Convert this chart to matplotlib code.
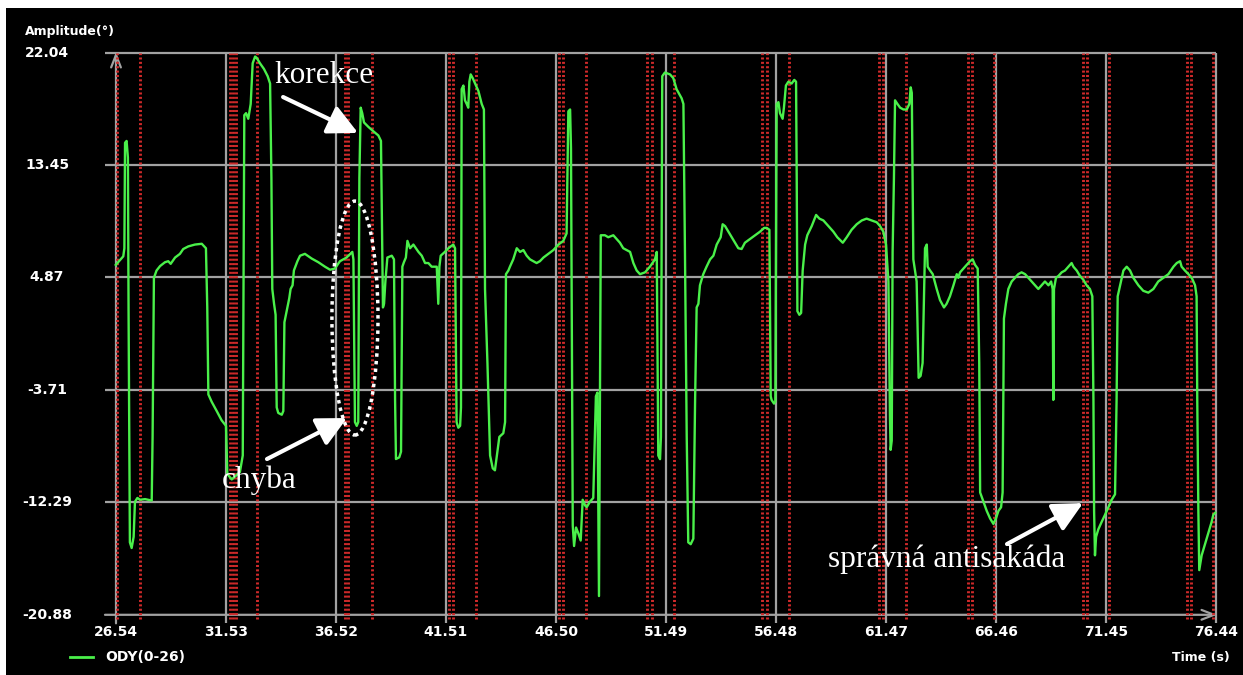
import matplotlib.pyplot as plt
from matplotlib.patches import Ellipse, Rectangle
from matplotlib.transforms import blended_transform_factory

# axis ticks as printed by the recorder
x_ticks = [26.54, 31.53, 36.52, 41.51, 46.50, 51.49, 56.48, 61.47, 66.46, 71.45, 76.44]
y_ticks = [22.04, 13.45, 4.87, -3.71, -12.29, -20.88]

# stimulus / saccade event markers (s)
marker_times = [26.59, 27.63, 31.71, 31.85, 31.98, 32.94, 36.93, 37.06, 38.15,
                41.65, 41.83, 42.87, 46.64, 46.82, 47.86, 50.63, 50.85, 51.85,
                55.84, 56.07, 57.07, 61.15, 61.33, 62.38, 65.19, 65.37, 66.37,
                70.41, 70.59, 71.59, 75.12, 75.31, 76.30]

# horizontal eye position, channel ODY(0-26)
time_s = [
    26.53, 26.72, 26.87, 26.92, 26.95, 27.02, 27.08, 27.11, 27.17, 27.25,
    27.34, 27.40, 27.51, 27.63, 27.86, 28.16, 28.20, 28.26, 28.38, 28.54,
    28.76, 28.91, 29.02, 29.22, 29.44, 29.59, 29.82, 30.12, 30.43, 30.62,
    30.68, 30.73, 30.88, 31.11, 31.33, 31.53, 31.59, 31.79, 32.16, 32.29,
    32.36, 32.44, 32.54, 32.65, 32.74, 32.85, 32.92, 33.07, 33.25, 33.42,
    33.53, 33.59, 33.63, 33.71, 33.78, 33.83, 33.90, 34.06, 34.13, 34.18,
    34.28, 34.40, 34.46, 34.55, 34.61, 34.77, 34.89, 35.11, 35.42, 35.72,
    36.02, 36.25, 36.47, 36.70, 37.00, 37.26, 37.31, 37.38, 37.46, 37.53,
    37.58, 37.64, 37.71, 37.79, 37.99, 38.24, 38.44, 38.56, 38.62, 38.65,
    38.70, 38.76, 38.85, 39.05, 39.15, 39.20, 39.24, 39.39, 39.47, 39.53,
    39.60, 39.69, 39.76, 39.88, 40.03,
    40.26, 40.41, 40.56, 40.71, 40.86, 41.09, 41.16, 41.21, 41.27, 41.46,
    41.62, 41.84, 41.92, 41.99, 42.07, 42.15, 42.19, 42.22, 42.30, 42.37,
    42.45, 42.52, 42.57, 42.63, 42.72, 42.83, 42.98, 43.13, 43.23, 43.28,
    43.39, 43.51, 43.63, 43.73, 43.84, 43.93, 44.11, 44.19, 44.23, 44.34,
    44.41, 44.56, 44.72, 44.87, 45.02, 45.17, 45.32, 45.47, 45.62, 45.77,
    45.93, 46.15, 46.38, 46.61, 46.83, 46.98, 47.06, 47.14, 47.18, 47.26,
    47.32, 47.41, 47.51, 47.62, 47.71, 47.82, 47.89, 48.04, 48.19, 48.31,
    48.38, 48.45, 48.50, 48.53, 48.72, 48.87, 49.10, 49.25, 49.40, 49.55,
    49.71, 49.86, 50.01, 50.16, 50.31, 50.54, 50.76, 50.99, 51.07, 51.14,
    51.22, 51.26, 51.32, 51.44, 51.67, 51.82, 51.97, 52.20, 52.28, 52.35,
    52.43, 52.50, 52.61, 52.73, 52.81, 52.88, 52.96, 53.03, 53.18, 53.33,
    53.49, 53.64, 53.79,
    53.97, 54.06, 54.17, 54.32, 54.47, 54.62, 54.77, 54.92, 55.07, 55.30,
    55.53, 55.76, 55.94, 56.06, 56.18, 56.24, 56.28, 56.39, 56.45, 56.51,
    56.59, 56.66, 56.78, 56.84, 56.93, 57.04, 57.19, 57.31, 57.39, 57.42,
    57.45, 57.54, 57.62, 57.69, 57.80, 57.90, 58.10, 58.30, 58.45, 58.63,
    58.86, 59.08, 59.26, 59.51, 59.69, 59.91, 60.14, 60.37, 60.59, 60.82,
    61.05, 61.20, 61.35, 61.47, 61.58, 61.65, 61.68, 61.73, 61.77, 61.83,
    61.88, 61.99, 62.11, 62.26, 62.41, 62.53, 62.59, 62.64, 62.71, 62.86,
    62.95, 63.04, 63.13, 63.24, 63.32, 63.36, 63.47, 63.59, 63.77, 63.92,
    64.10, 64.22, 64.37, 64.53, 64.68, 64.75, 64.83, 64.98, 65.13, 65.28,
    65.40, 65.51, 65.63, 65.70, 65.74,
    65.89, 66.04, 66.19, 66.34, 66.46, 66.57, 66.69, 66.76, 66.82, 66.91,
    67.02, 67.17, 67.32, 67.47, 67.62, 67.78, 67.93, 68.08, 68.23, 68.38,
    68.53, 68.68, 68.84, 68.96, 69.03, 69.06, 69.09, 69.18, 69.29, 69.44,
    69.59, 69.74, 69.89, 69.97, 70.12, 70.27, 70.42, 70.57, 70.72, 70.83,
    70.88, 70.91, 70.95, 71.00, 71.10, 71.25, 71.41, 71.56, 71.71, 71.86,
    71.93, 71.98, 72.09, 72.24, 72.39, 72.54, 72.69, 72.92, 73.14, 73.37,
    73.60, 73.82, 74.05, 74.28, 74.51, 74.66, 74.81, 74.88, 75.03, 75.19,
    75.34, 75.49, 75.56, 75.59, 75.64, 75.68, 75.79, 75.94, 76.09, 76.24,
    76.32, 76.41,
]
amplitude_deg = [
    5.83, 6.19, 6.48, 7.10, 15.15, 15.29, 14.02, 2.30, -15.35, -15.78,
    -14.93, -12.25, -11.96, -12.10, -12.05, -12.16, -7.30, 4.84, 5.40, 5.74,
    6.03, 6.11, 5.91, 6.39, 6.67, 7.04, 7.24, 7.38, 7.44, 7.10,
    2.58, -4.06, -4.62, -5.33, -6.03, -6.46, -10.13, -10.55, -9.99, -8.72,
    17.26, 17.41, 16.98, 18.11, 21.22, 21.73, 21.64, 21.22, 20.79, 20.23,
    19.67, 12.46, 3.99, 2.86, 2.02, -5.05, -5.47, -5.61, -5.33, 1.45,
    2.30, 3.29, 3.99, 4.27, 5.40, 6.11, 6.53, 6.67, 6.31, 6.03,
    5.69, 5.46, 5.55, 6.11, 6.39, 6.82, 6.25, -6.17, -6.46, -6.17,
    12.46, 17.83, 17.41, 16.70, 16.36, 15.99, 15.71, 15.29, 6.82, 2.58,
    2.86, 4.56, 6.39, 6.53, 6.25, -4.48, -8.99, -8.86, -8.43, 5.69,
    6.03, 6.39, 7.66, 7.10, 7.38,
    6.82, 6.53, 5.97, 5.97, 5.69, 5.69, 2.86, 5.69, 6.53, 6.82,
    7.10, 7.38, 7.10, -6.17, -6.60, -6.46, -5.05, 19.24, 19.52, 18.39,
    18.11, 17.83, 19.81, 20.37, 20.09, 19.67, 19.10, 18.11, 17.69, 3.99,
    -1.66, -8.72, -9.70, -9.85, -8.43, -7.30, -7.02, -6.17, 5.12, 5.40,
    5.69, 6.25, 7.10, 6.82, 6.96, 6.53, 6.25, 6.11, 5.97, 6.11,
    6.39, 6.67, 6.96, 7.38, 7.66, 8.23, 17.55, 17.69, 14.72, -14.08,
    -15.63, -14.22, -14.65, -15.21, -12.10, -12.53, -12.67, -12.25, -11.96, -4.20,
    -3.92, -19.45, -1.66, 8.09, 8.09, 7.94, 8.09, 7.80, 7.52, 7.10,
    6.96, 6.82, 5.97, 5.40, 5.12, 5.26, 5.69, 6.25, 6.82, -8.72,
    -9.00, -7.30, 20.23, 20.51, 20.37, 20.09, 19.24, 18.54, 18.11, 6.82,
    -7.30, -15.35, -15.49, -15.07, -4.48, 2.58, 2.86, 4.27, 5.12, 5.69,
    6.25, 6.53, 7.38,
    7.94, 8.93, 8.79, 8.37, 7.94, 7.52, 7.10, 7.04, 7.52, 7.80,
    8.09, 8.37, 8.65, 8.65, 8.51, -4.20, -4.48, -4.76, -4.62, 18.11,
    18.25, 17.41, 16.98, 17.83, 19.52, 19.81, 19.67, 19.95, 19.81, 12.46,
    2.30, 2.02, 2.16, 5.40, 7.38, 8.09, 8.79, 9.64, 9.36, 9.22,
    8.79, 8.37, 7.94, 7.52, 7.94, 8.51, 8.93, 9.22, 9.36, 9.22,
    9.08, 8.79, 8.37, 7.38, 4.56, -5.89, -8.29, -7.59, 6.82, 12.46,
    18.39, 18.11, 17.83, 17.69, 17.69, 18.11, 19.38, 18.96, 6.25, 4.56,
    -2.79, -2.64, -1.66, 7.10, 7.38, 5.69, 5.40, 5.12, 3.99, 3.14,
    2.58, 2.86, 3.43, 4.27, 5.12, 4.84, 5.26, 5.55, 5.83, 6.11,
    6.25, 5.83, 5.55, -1.66, -11.54,
    -12.25, -12.95, -13.52, -13.94, -13.52, -12.95, -12.67, -11.54, 1.73, 2.86,
    3.99, 4.56, 4.84, 5.12, 5.26, 5.12, 4.84, 4.56, 4.27, 3.99,
    4.27, 4.56, 4.27, 4.56, 3.99, -4.48, 3.99, 4.84, 4.98, 5.26,
    5.40, 5.69, 5.97, 5.69, 5.40, 4.98, 4.70, 4.27, 3.99, 3.43,
    -4.48, -12.95, -16.34, -14.93, -14.36, -13.80, -13.23, -12.67, -12.10, -11.68,
    -4.48, 3.43, 4.27, 5.40, 5.69, 5.40, 4.84, 4.27, 3.85, 3.71,
    3.99, 4.56, 4.84, 5.12, 5.69, 5.97, 6.11, 5.69, 5.40, 5.12,
    4.84, 4.27, 3.43, -4.48, -12.95, -17.47, -16.34, -15.49, -14.65, -13.80,
    -13.23, -13.09,
]

GRID = '#a2a2a2'
GREEN = '#4af04a'
RED = '#d02a2a'

fig = plt.figure(figsize=(12.43, 6.75), dpi=100, facecolor='white')
# black plot panel with a thin white margin on the top and left
fig.patches.append(Rectangle((6 / 1243, 0), 1, 1 - 8 / 675, transform=fig.transFigure,
                             facecolor='black', edgecolor='none', zorder=-10))

ax = fig.add_axes([116 / 1243, 60.2 / 675, 1100 / 1243, 562.3 / 675])
ax.set_facecolor('none')
ax.set_xlim(x_ticks[0], x_ticks[-1])
ax.set_ylim(y_ticks[-1], y_ticks[0])
ax.axis('off')

x_left = x_ticks[0] - 0.5
y_low = y_ticks[-1] - 0.65

# grid
ax.hlines(y_ticks[:-1], x_left, x_ticks[-1], colors=GRID, lw=1.6, clip_on=False, zorder=1)
ax.vlines(x_ticks[1:], y_low, y_ticks[0], colors=GRID, lw=1.6, clip_on=False, zorder=1)

# axes with arrow heads
ax.annotate('', xy=(x_ticks[-1] + 0.05, y_ticks[-1]), xytext=(x_left, y_ticks[-1]),
            arrowprops=dict(arrowstyle='->,head_length=0.9,head_width=0.35', color=GRID, lw=1.6,
                            shrinkA=0, shrinkB=0), annotation_clip=False, zorder=1)
ax.annotate('', xy=(x_ticks[0], y_ticks[0] + 0.05), xytext=(x_ticks[0], y_low),
            arrowprops=dict(arrowstyle='->,head_length=0.9,head_width=0.35', color=GRID, lw=1.6,
                            shrinkA=0, shrinkB=0), annotation_clip=False, zorder=1)

# event markers
ax.vlines(marker_times, y_ticks[-1] - 0.3, y_ticks[0], colors=RED, lw=2.1,
          linestyles=(0, (0.7, 0.8)), clip_on=False, zorder=2)

ax.plot(time_s, amplitude_deg, color=GREEN, lw=1.7, zorder=3, clip_on=False)

# tick labels
tf_y = blended_transform_factory(fig.transFigure, ax.transData)
for v in y_ticks:
    ax.text(47 / 1243, v, f'{v:.2f}', transform=tf_y, color='white', fontsize=10,
            fontweight='bold', ha='center', va='center')
tf_x = blended_transform_factory(ax.transData, fig.transFigure)
for v in x_ticks:
    ax.text(v, 1 - 632 / 675, f'{v:.2f}', transform=tf_x, color='white', fontsize=10,
            fontweight='bold', ha='center', va='center')

fig.text(25 / 1243, 1 - 31 / 675, 'Amplitude(°)', color='white', fontsize=9,
         fontweight='bold', ha='left', va='center')
fig.text(1230 / 1243, 1 - 658 / 675, 'Time (s)', color='white', fontsize=9,
         fontweight='bold', ha='right', va='center')

# legend
fig.lines.append(plt.Line2D([70 / 1243, 93 / 1243], [1 - 657 / 675] * 2,
                            transform=fig.transFigure, color=GREEN, lw=2))
fig.text(105 / 1243, 1 - 657 / 675, 'ODY(0-26)', color='white', fontsize=10,
         fontweight='bold', ha='left', va='center')

# annotations
serif = dict(color='white', fontsize=22.5, family='Liberation Serif', va='baseline', ha='left', zorder=5)
arrow = dict(arrowstyle='-|>,head_length=0.9,head_width=0.45', color='white', lw=3,
             shrinkA=0, shrinkB=0, mutation_scale=20)

ax.text(33.71, 19.71, 'korekce', **serif)
ax.annotate('', xy=(37.52, 15.90), xytext=(34.12, 18.64), arrowprops=arrow, zorder=5)

ax.text(31.35, -11.20, 'chyba', **serif)
ax.annotate('', xy=(37.02, -5.86), xytext=(33.39, -8.99), arrowprops=arrow, zorder=5)

ax.text(58.84, -17.23, 'správná antisakáda', **serif)
ax.annotate('', xy=(70.41, -12.35), xytext=(66.96, -15.48), arrowprops=arrow, zorder=5)

ax.add_patch(Ellipse((37.38, 1.77), 2.09, 17.86, fill=False, edgecolor='white', lw=2.5,
                     linestyle=(0, (1, 1.2)), zorder=5))

fig.savefig('out.png', dpi=100, facecolor=fig.get_facecolor())
